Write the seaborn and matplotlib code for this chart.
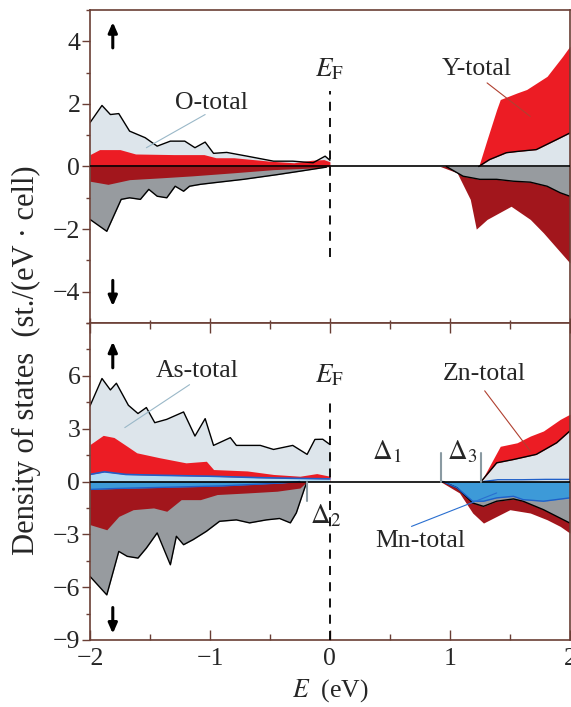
import matplotlib
matplotlib.use("Agg")
import matplotlib.pyplot as plt
import seaborn as sns
import numpy as np

# ---- top panel (O / Y) ----
o_up_x = [-2.0, -1.90, -1.83, -1.76, -1.67, -1.54, -1.44, -1.33, -1.21, -1.125, -1.04, -0.97, -0.86, -0.69, -0.47, -0.31, -0.14, -0.04, 0.0]
o_up_y = [1.40, 1.95, 1.66, 1.69, 1.13, 0.92, 0.65, 0.81, 0.81, 0.60, 0.78, 0.42, 0.45, 0.33, 0.17, 0.17, 0.12, 0.33, 0.20]
yl_up_x = [-2.0, -1.92, -1.75, -1.62, -1.3, -1.05, -0.95, -0.8, -0.5, -0.3, -0.15, -0.05, 0.0]
yl_up_y = [0.38, 0.54, 0.54, 0.40, 0.38, 0.38, 0.28, 0.28, 0.17, 0.12, 0.20, 0.22, 0.15]
o_dn_x = [-2.0, -1.86, -1.74, -1.67, -1.58, -1.51, -1.44, -1.36, -1.29, -1.22, -1.17, -1.08, -0.97, -0.72, -0.44, -0.25, -0.03]
o_dn_y = [-1.69, -2.07, -1.05, -1.00, -1.05, -0.73, -0.95, -1.00, -0.63, -0.79, -0.63, -0.57, -0.52, -0.41, -0.26, -0.15, -0.02]
yl_dn_x = [-2.0, -1.85, -1.67, -1.4, -1.15, -0.8, -0.47, -0.15, 0.0]
yl_dn_y = [-0.47, -0.57, -0.42, -0.36, -0.30, -0.20, -0.10, -0.05, 0.0]

y_up_x = [1.24, 1.31, 1.39, 1.42, 1.56, 1.64, 1.81, 1.94, 2.0]
y_up_y = [0.0, 0.86, 1.82, 2.14, 2.35, 2.46, 2.88, 3.52, 3.84]
o2_up_x = [1.24, 1.33, 1.47, 1.56, 1.72, 1.89, 2.0]
o2_up_y = [0.0, 0.22, 0.44, 0.48, 0.54, 0.86, 1.07]
y_dn_x = [0.92, 1.06, 1.17, 1.22, 1.31, 1.51, 1.67, 1.78, 1.89, 2.0]
y_dn_y = [0.0, -0.20, -1.05, -2.00, -1.69, -1.27, -1.69, -2.12, -2.60, -3.08]
o2_dn_x = [0.97, 1.11, 1.25, 1.39, 1.53, 1.67, 1.81, 1.92, 2.0]
o2_dn_y = [0.0, -0.31, -0.41, -0.41, -0.47, -0.50, -0.63, -0.84, -0.95]

# ---- bottom panel (As / Zn / Mn) ----
as_up_x = [-2.0, -1.90, -1.83, -1.78, -1.68, -1.60, -1.53, -1.46, -1.36, -1.22, -1.125, -1.04, -0.97, -0.83, -0.78, -0.58, -0.47, -0.31, -0.19, -0.125, -0.06, 0.0]
as_up_y = [4.29, 5.85, 5.20, 5.58, 4.33, 3.86, 4.20, 3.34, 3.53, 3.95, 2.58, 3.57, 2.05, 2.49, 2.05, 2.05, 1.82, 2.05, 1.54, 2.39, 2.40, 2.10]
zn_up_x = [-2.0, -1.89, -1.80, -1.69, -1.61, -1.42, -1.20, -1.03, -0.97, -0.69, -0.47, -0.25, -0.11, 0.0]
zn_up_y = [2.10, 2.62, 2.50, 2.00, 1.63, 1.35, 1.06, 1.15, 0.68, 0.60, 0.40, 0.30, 0.45, 0.30]
mn_up_x = [-2.0, -1.88, -1.7, -1.4, -1.0, -0.6, -0.3, 0.0]
mn_up_y = [0.40, 0.55, 0.40, 0.35, 0.30, 0.22, 0.18, 0.15]
as_dn_x = [-2.0, -1.86, -1.76, -1.69, -1.60, -1.53, -1.44, -1.33, -1.28, -1.22, -1.14, -1.03, -0.92, -0.78, -0.67, -0.53, -0.42, -0.33, -0.28, -0.21, -0.19]
as_dn_y = [-5.39, -6.44, -3.97, -4.25, -4.35, -3.78, -2.92, -4.73, -3.11, -3.59, -3.30, -2.83, -2.26, -2.18, -2.35, -2.18, -2.10, -2.35, -1.78, -0.36, 0.0]
zn_dn_x = [-2.0, -1.86, -1.76, -1.64, -1.47, -1.36, -1.24, -1.08, -0.94, -0.69, -0.44, -0.25, -0.19]
zn_dn_y = [-2.45, -2.74, -1.98, -1.60, -1.50, -1.69, -1.03, -1.03, -0.74, -0.65, -0.55, -0.37, 0.0]
mn_dn_x = [-2.0, -1.8, -1.5, -1.2, -0.9, -0.6, -0.4, -0.25]
mn_dn_y = [-0.45, -0.40, -0.35, -0.30, -0.25, -0.15, -0.08, 0.0]

zn2_up_x = [1.26, 1.36, 1.42, 1.56, 1.67, 1.78, 1.92, 2.0]
zn2_up_y = [0.0, 1.25, 2.00, 2.20, 2.58, 2.87, 3.53, 3.82]
as2_up_x = [1.26, 1.39, 1.53, 1.72, 1.89, 2.0]
as2_up_y = [0.0, 1.06, 1.25, 1.54, 2.20, 2.87]
mn2_up_x = [1.28, 1.4, 1.6, 1.8, 2.0]
mn2_up_y = [0.0, 0.10, 0.10, 0.12, 0.12]
zn2_dn_x = [0.92, 1.08, 1.19, 1.28, 1.39, 1.50, 1.67, 1.81, 1.92, 2.0]
zn2_dn_y = [0.0, -0.65, -1.79, -2.36, -1.98, -1.60, -1.79, -2.17, -2.55, -2.93]
as2_dn_x = [0.94, 1.06, 1.19, 1.28, 1.39, 1.53, 1.61, 1.78, 1.89, 2.0]
as2_dn_y = [0.0, -0.36, -1.22, -1.41, -1.12, -0.99, -1.12, -1.60, -1.98, -2.36]
mn2_dn_x = [0.94, 1.06, 1.19, 1.28, 1.39, 1.53, 1.61, 1.78, 2.0]
mn2_dn_y = [0.0, -0.36, -1.12, -1.12, -0.93, -0.84, -1.03, -1.12, -0.93]

top_yticks = [-4, -2, 0, 2, 4]
bot_yticks = [-9, -6, -3, 0, 3, 6]
xticks = [-2, -1, 0, 1, 2]

LGREY = "#dde5eb"
RED = "#ec1c24"
DRED = "#a2161c"
GREY = "#979b9f"
LBLUE = "#b3dcf2"
BLUE = "#3d9ad8"
SPINE = "#6a3e35"

sns.set_theme(style="white")
plt.rcParams["font.family"] = ["Liberation Serif", "DejaVu Serif"]
plt.rcParams["mathtext.fontset"] = "stix"
plt.rcParams["axes.unicode_minus"] = True
FS = 18.5

fig = plt.figure(figsize=(5.71, 7.07), dpi=100)
ax1 = fig.add_axes([0.1576, 0.5431, 0.8404, 0.4428])
ax2 = fig.add_axes([0.1576, 0.0948, 0.8404, 0.4483], sharex=ax1)


def fill(ax, x, y, color, edge=None, lw=1.0):
    ax.fill_between(x, 0, y, color=color, lw=0)
    if edge is not None:
        sns.lineplot(x=x, y=y, ax=ax, color=edge, lw=lw, sort=False, estimator=None)


# top panel
fill(ax1, o_up_x, o_up_y, LGREY, "black")
fill(ax1, yl_up_x, yl_up_y, RED)
fill(ax1, o_dn_x, o_dn_y, GREY, "black")
fill(ax1, yl_dn_x, yl_dn_y, DRED)
fill(ax1, y_up_x, y_up_y, RED)
fill(ax1, o2_up_x, o2_up_y, LGREY, "black")
fill(ax1, y_dn_x, y_dn_y, DRED)
fill(ax1, o2_dn_x, o2_dn_y, GREY, "black")

# bottom panel
fill(ax2, as_up_x, as_up_y, LGREY, "black")
fill(ax2, zn_up_x, zn_up_y, RED)
fill(ax2, mn_up_x, mn_up_y, LBLUE, "#1f5fc8", 1.2)
fill(ax2, as_dn_x, as_dn_y, GREY, "black")
fill(ax2, zn_dn_x, zn_dn_y, DRED)
fill(ax2, mn_dn_x, mn_dn_y, BLUE, "#1f5fc8", 1.0)
fill(ax2, zn2_up_x, zn2_up_y, RED)
fill(ax2, as2_up_x, as2_up_y, LGREY, "black")
fill(ax2, mn2_up_x, mn2_up_y, LGREY, "#1f5fc8", 1.0)
fill(ax2, zn2_dn_x, zn2_dn_y, DRED)
fill(ax2, as2_dn_x, as2_dn_y, GREY, "black")
fill(ax2, mn2_dn_x, mn2_dn_y, BLUE, "#1f5fc8", 1.0)

for ax in (ax1, ax2):
    ax.axhline(0, color="black", lw=1.2, zorder=5)
    for s in ax.spines.values():
        s.set_color(SPINE)
        s.set_linewidth(1.2)
    ax.set_xlim(-2, 2)
    ax.set_xticks(xticks)
    ax.set_xticks(np.arange(-2, 2.01, 0.5), minor=True)
    ax.tick_params(axis="x", which="both", direction="inout", color=SPINE,
                   length=7, width=1, bottom=True, labelsize=FS, pad=6)
    ax.tick_params(axis="x", which="minor", length=4)
    ax.tick_params(axis="y", which="both", direction="out", color=SPINE,
                   length=6, width=1, left=True, labelsize=FS, pad=1)
    ax.tick_params(axis="y", which="minor", length=3)

ax1.set_ylim(-5, 5)
ax1.set_yticks(top_yticks)
ax1.set_yticks(np.arange(-5, 5.01, 1), minor=True)
ax1.tick_params(axis="x", labelbottom=False)
ax2.set_ylim(-9, 9)
ax2.set_yticks(bot_yticks)
ax2.set_yticks(np.arange(-9, 9.01, 1.5), minor=True)
ax2.tick_params(axis="x", top=True, which="both", direction="in")
ax2.tick_params(axis="x", bottom=True, which="both")

# Fermi level
ax1.plot([0, 0], [-2.9, 2.4], color="black", ls=(0, (5, 4)), lw=1.3, zorder=6)
ax2.plot([0, 0], [-9, 4.8], color="black", ls=(0, (5, 4)), lw=1.3, zorder=6)
ax1.text(0, 2.7, r"$E_{\mathrm{F}}$", ha="center", va="bottom", fontsize=FS + 1)
ax2.text(0, 5.3, r"$E_{\mathrm{F}}$", ha="center", va="bottom", fontsize=FS + 1)

# spin arrows
arrow_style = dict(arrowstyle="-|>,head_width=0.22,head_length=0.5", color="black", lw=2.2)
for ax, up, dn in ((ax1, (3.7, 4.7), (-3.55, -4.55)), (ax2, (6.3, 8.1), (-7.0, -8.8))):
    ax.annotate("", xy=(-1.81, up[1]), xytext=(-1.81, up[0]), arrowprops=arrow_style)
    ax.annotate("", xy=(-1.81, dn[1]), xytext=(-1.81, dn[0]), arrowprops=arrow_style)

# labels with leader lines
ax1.text(-0.99, 2.04, "O-total", ha="center", va="center", fontsize=FS)
ax1.plot([-1.04, -1.53], [1.66, 0.6], color="#9ab8c8", lw=0.8, zorder=7)
ax1.text(1.22, 3.1, "Y-total", ha="center", va="center", fontsize=FS)
ax1.plot([1.31, 1.67], [2.67, 1.6], color="#b04030", lw=0.8, zorder=7)

ax2.text(-1.11, 6.3, "As-total", ha="center", va="center", fontsize=FS)
ax2.plot([-1.17, -1.71], [5.5, 3.06], color="#9ab8c8", lw=0.8, zorder=7)
ax2.text(1.29, 6.1, "Zn-total", ha="center", va="center", fontsize=FS)
ax2.plot([1.29, 1.67], [5.15, 1.73], color="#b04030", lw=0.8, zorder=7)
ax2.text(0.75, -3.4, "Mn-total", ha="center", va="center", fontsize=FS)
ax2.plot([0.68, 1.39], [-2.55, -0.65], color="#2a6fd0", lw=0.8, zorder=7)

# gap markers
ax2.plot([-0.19, -0.19], [0, -1.1], color="#8a9aa2", lw=1.5, zorder=7)
ax2.text(-0.17, -1.95, r"$\Delta_2$", ha="left", va="center", fontsize=FS + 1)
ax2.plot([0.93, 0.93], [0, 1.63], color="#8a9aa2", lw=1.5, zorder=7)
ax2.plot([1.26, 1.26], [0, 1.63], color="#8a9aa2", lw=1.5, zorder=7)
ax2.text(0.47, 1.65, r"$\Delta_1$", ha="center", va="center", fontsize=FS + 1)
ax2.text(1.1, 1.65, r"$\Delta_3$", ha="center", va="center", fontsize=FS + 1)

ax2.set_xlabel(r"$E$  (eV)", fontsize=FS, labelpad=5)
fig.text(26 / 571, 1 - 360 / 707, "Density of states  (st./(eV · cell)", rotation=90,
         ha="center", va="center", fontsize=22)

fig.savefig("out.png", dpi=100)
